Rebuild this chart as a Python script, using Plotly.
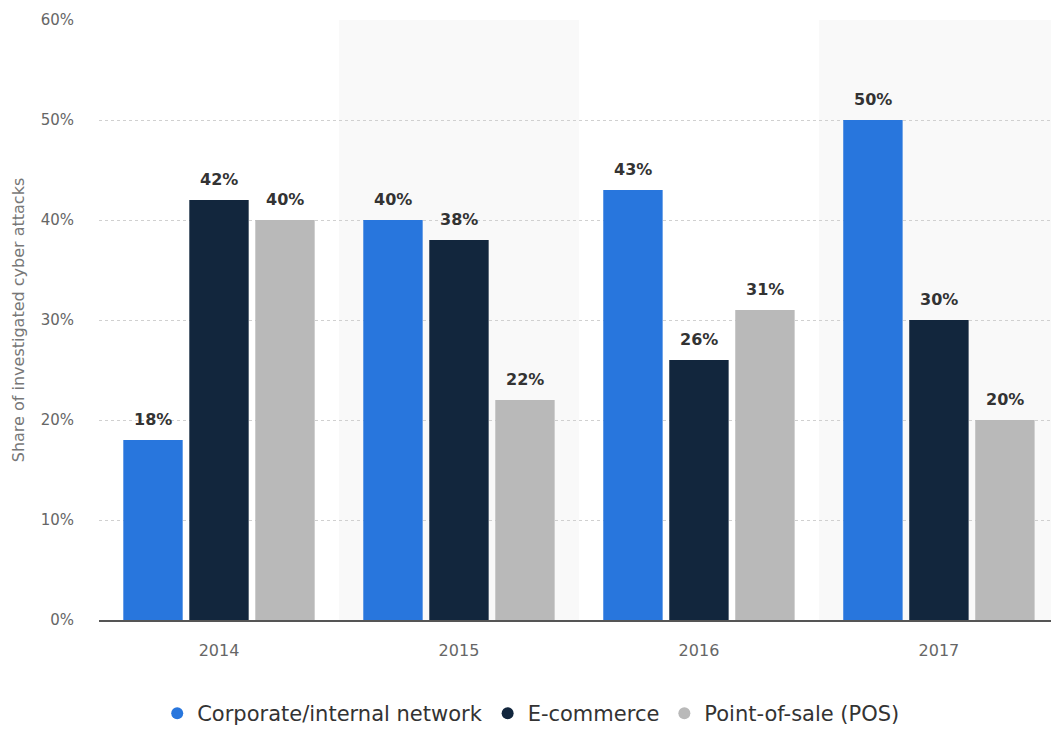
import plotly.graph_objects as go

years = ["2014", "2015", "2016", "2017"]
corporate = [18, 40, 43, 50]
ecommerce = [42, 38, 26, 30]
pos = [40, 22, 31, 20]
series_names = ["Corporate/internal network", "E-commerce", "Point-of-sale (POS)"]
colors = ["#2876dd", "#12263d", "#b9b9b9"]
y_ticks = [0, 10, 20, 30, 40, 50, 60]

BARGAP = 0.175
all_series = [corporate, ecommerce, pos]

fig = go.Figure()
for name, vals, col in zip(series_names, all_series, colors):
    fig.add_trace(go.Bar(
        x=years, y=vals, name=name, marker_color=col, marker_line_width=0,
        showlegend=False,
    ))
for name, col in zip(series_names, colors):
    fig.add_trace(go.Scatter(
        x=[None], y=[None], mode="markers", name=name,
        marker=dict(symbol="circle", size=20, color=col), showlegend=True,
    ))

# value labels placed over each grouped bar
slot = (1 - BARGAP) / len(all_series)
for k, vals in enumerate(all_series):
    off = (k - (len(all_series) - 1) / 2) * slot
    for j, v in enumerate(vals):
        fig.add_annotation(x=j + off, y=v, text=f"<b>{v}%</b>", showarrow=False,
                           yanchor="middle", yshift=21,
                           font=dict(family="DejaVu Sans", size=16, color="#333333"))

# alternating background bands
for i, yr in enumerate(years):
    if i % 2 == 1:
        fig.add_shape(type="rect", xref="x", yref="paper", x0=i - 0.5, x1=i + 0.5,
                      y0=0, y1=1, fillcolor="#f9f9f9", line_width=0, layer="below")

fig.update_layout(
    width=1051, height=734,
    margin=dict(l=99, r=0, t=20, b=114),
    paper_bgcolor="white", plot_bgcolor="white",
    barmode="group", bargap=BARGAP, bargroupgap=0.1,
    font=dict(family="DejaVu Sans", color="#666666"),
    legend=dict(orientation="h", x=0.454, xanchor="center", y=-0.122, yanchor="top",
                font=dict(family="DejaVu Sans", size=21, color="#333333"),
                itemsizing="constant"),
    xaxis=dict(range=[-0.5, 3.467], showgrid=False, ticks="", showline=True,
               linecolor="#555555", linewidth=2, ticklabelstandoff=15,
               tickfont=dict(size=16, color="#666666")),
    yaxis=dict(range=[0, 60], tickvals=y_ticks, ticktext=[f"{v}%" for v in y_ticks],
               showgrid=True, gridcolor="#d0d0d0", griddash="dot", gridwidth=1,
               zeroline=False, showline=False, ticks="", ticklabelstandoff=24,
               tickfont=dict(size=15, color="#666666"),
               title=dict(text="Share of investigated cyber attacks", standoff=12,
                          font=dict(size=16, color="#777777"))),
)

fig.write_html("out.html")
